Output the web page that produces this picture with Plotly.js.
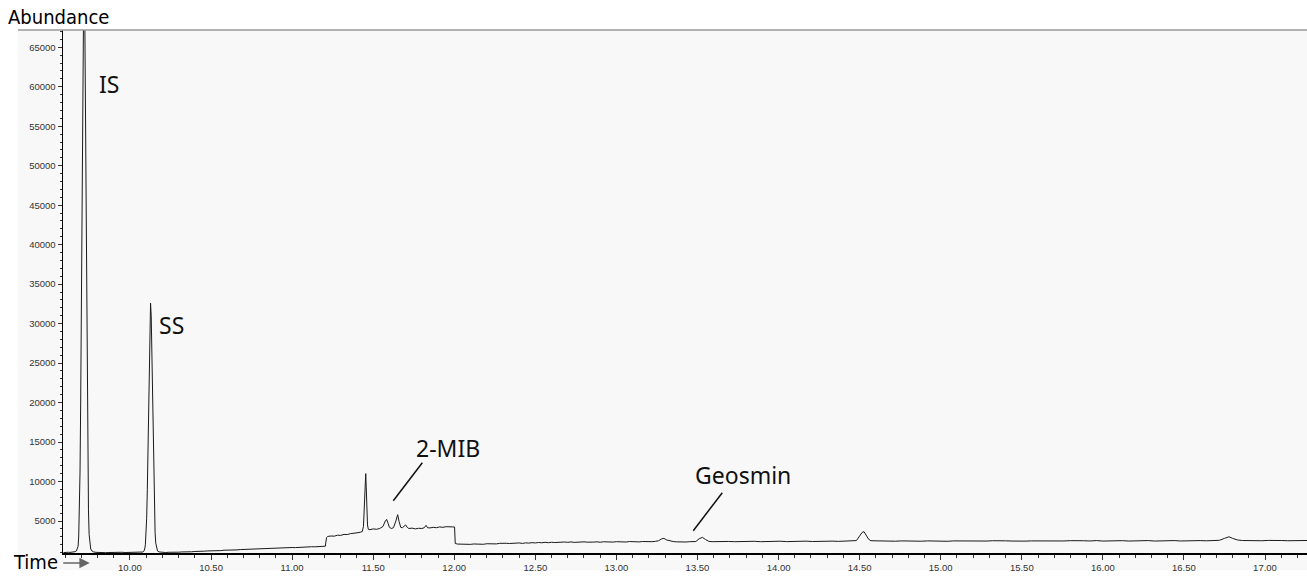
<!DOCTYPE html>
<html>
<head>
<meta charset="utf-8">
<script src="https://cdn.plot.ly/plotly-3.0.1.min.js"></script>
<style>
html,body{margin:0;padding:0;background:#fff;}
#chart{width:1307px;height:581px;}
</style>
</head>
<body>
<div id="chart"></div>
<script>
// Retention time (min) and abundance
const rtMin = [
  9.590, 9.600, 9.610, 9.620, 9.630, 9.640, 9.650, 9.660, 9.670,
  9.680, 9.684, 9.688, 9.692, 9.696, 9.700, 9.704, 9.708, 9.712, 9.716,
  9.720, 9.724, 9.728, 9.732, 9.736, 9.740, 9.744, 9.748, 9.752, 9.758, 9.766, 9.776,
  9.79, 9.81, 9.83, 9.85, 9.87, 9.89, 9.91, 9.93, 9.95, 9.97, 9.99, 10.01, 10.03, 10.05, 10.07, 10.08,
  10.085, 10.091, 10.095, 10.099, 10.103, 10.107, 10.111, 10.115, 10.119, 10.123, 10.127,
  10.131, 10.135, 10.139, 10.143, 10.147, 10.151, 10.155, 10.159, 10.164, 10.170, 10.18,
  10.20, 10.22, 10.24, 10.26, 10.28, 10.30, 10.32, 10.34, 10.36, 10.38, 10.40, 10.42, 10.44, 10.46, 10.48,
  10.50, 10.52, 10.54, 10.56, 10.58, 10.60, 10.62, 10.64, 10.66, 10.68, 10.70, 10.72, 10.74, 10.76, 10.78,
  10.80, 10.82, 10.84, 10.86, 10.88, 10.90, 10.92, 10.94, 10.96, 10.98, 11.00, 11.02, 11.04, 11.06, 11.08,
  11.10, 11.12, 11.14, 11.16, 11.18, 11.20, 11.205, 11.212, 11.22, 11.24, 11.26, 11.28, 11.30, 11.32, 11.34,
  11.36, 11.38, 11.40, 11.42, 11.432, 11.440, 11.444, 11.448, 11.451, 11.454, 11.457, 11.461, 11.465, 11.470,
  11.48, 11.50, 11.52, 11.54, 11.56, 11.575, 11.583, 11.592, 11.60, 11.612, 11.625, 11.640, 11.651, 11.660,
  11.670, 11.68, 11.69, 11.70, 11.71, 11.72, 11.74, 11.76, 11.78, 11.80, 11.815, 11.826, 11.835, 11.85,
  11.87, 11.89, 11.91, 11.93, 11.95, 11.97, 11.99, 12.002, 12.006,
  12.02, 12.04, 12.06, 12.08, 12.10, 12.12, 12.14, 12.16, 12.18, 12.20, 12.22, 12.24, 12.26, 12.28, 12.30,
  12.32, 12.34, 12.36, 12.38, 12.40, 12.42, 12.44, 12.46, 12.48, 12.50, 12.52, 12.54, 12.56, 12.58, 12.60,
  12.62, 12.64, 12.66, 12.68, 12.70, 12.72, 12.74, 12.76, 12.78, 12.80, 12.82, 12.84, 12.86, 12.88, 12.90,
  12.92, 12.94, 12.96, 12.98, 13.00, 13.02, 13.04, 13.06, 13.08, 13.10, 13.12, 13.14, 13.16, 13.18, 13.20,
  13.22, 13.24, 13.26, 13.28, 13.293, 13.31, 13.33, 13.35, 13.37, 13.39, 13.41, 13.43, 13.45, 13.47, 13.49,
  13.51, 13.53, 13.55, 13.57, 13.59, 13.61, 13.65, 13.69, 13.73, 13.77, 13.81, 13.85, 13.89, 13.93, 13.97,
  14.01, 14.05, 14.09, 14.13, 14.17, 14.21, 14.25, 14.29, 14.33, 14.37, 14.41, 14.45, 14.48, 14.50, 14.515,
  14.527, 14.54, 14.555, 14.57, 14.60, 14.64, 14.68, 14.72, 14.76, 14.80, 14.84, 14.88, 14.92, 14.96, 15.00,
  15.04, 15.08, 15.12, 15.16, 15.20, 15.24, 15.28, 15.32, 15.36, 15.40, 15.44, 15.48, 15.52, 15.56, 15.60,
  15.64, 15.68, 15.72, 15.76, 15.80, 15.84, 15.88, 15.92, 15.96, 16.00, 16.04, 16.08, 16.12, 16.16, 16.20,
  16.24, 16.28, 16.32, 16.36, 16.40, 16.44, 16.48, 16.52, 16.56, 16.60, 16.64, 16.68, 16.72, 16.75, 16.778,
  16.80, 16.83, 16.86, 16.90, 16.94, 16.98, 17.02, 17.06, 17.10, 17.14, 17.18, 17.22, 17.26
];
const abundance = [
  1000, 1030, 1010, 1040, 1020, 1050, 1060, 1110, 1220,
  1800, 3100, 5900, 11200, 19700, 31800, 46500, 61000, 72000, 76000,
  72500, 62000, 48000, 33000, 21000, 12000, 6400, 3300, 2000, 1450, 1200, 1080,
  1030, 1000, 1020, 990, 1010, 1030, 1000, 1020, 1040, 1010, 1020, 1050, 1020, 1030, 1040, 1070,
  1150, 1450, 1980, 3180, 5350, 8950, 14050, 20200, 26300, 30900, 32600,
  31000, 26600, 20700, 14600, 9500, 5800, 3500, 2200, 1550, 1200, 1080,
  1030, 1010, 1040, 1020, 1060, 1050, 1080, 1070, 1110, 1100, 1140, 1130, 1170, 1180, 1210,
  1200, 1240, 1260, 1250, 1300, 1290, 1330, 1350, 1340, 1380, 1400, 1390, 1430, 1450, 1440,
  1480, 1500, 1490, 1530, 1550, 1540, 1580, 1600, 1590, 1620, 1640, 1630, 1670, 1690, 1680,
  1720, 1740, 1730, 1770, 1790, 1780, 1810, 2900, 3050, 3100, 3080, 3200, 3180, 3300, 3280,
  3400, 3420, 3500, 3580, 3650, 4300, 6000, 9200, 10900, 11000, 9300, 6200, 4500, 3950,
  3900, 4000, 3950, 4050, 4300, 5000, 5200, 4700, 4200, 4050, 4150, 5000, 5800, 4900,
  4200, 4150, 4300, 4500, 4200, 4050, 4100, 4000, 4080, 4050, 4150, 4450, 4150, 4120,
  4200, 4150, 4250, 4200, 4280, 4220, 4250, 4230, 2150,
  2080, 2050, 2100, 2060, 2040, 2090, 2070, 2110, 2050, 2120, 2090, 2150, 2100, 2170, 2130,
  2180, 2150, 2200, 2170, 2220, 2160, 2230, 2200, 2260, 2220, 2280, 2240, 2300, 2250, 2310,
  2270, 2320, 2280, 2340, 2300, 2350, 2290, 2340, 2310, 2360, 2320, 2370, 2330, 2360, 2310,
  2370, 2340, 2380, 2330, 2380, 2350, 2390, 2340, 2400, 2360, 2390, 2350, 2400, 2370, 2410,
  2380, 2420, 2500, 2750, 2800, 2600, 2450, 2400, 2360, 2330, 2370, 2340, 2380, 2350, 2400,
  2750, 2930, 2650, 2420, 2380, 2400, 2370, 2410, 2380, 2420, 2390, 2430, 2380, 2420, 2400,
  2440, 2390, 2430, 2410, 2450, 2400, 2440, 2410, 2450, 2420, 2460, 2430, 2520, 3100, 3550,
  3650, 3200, 2700, 2500, 2480, 2450, 2490, 2440, 2480, 2450, 2490, 2440, 2480, 2450, 2490,
  2430, 2480, 2460, 2500, 2440, 2490, 2460, 2500, 2450, 2490, 2460, 2500, 2450, 2480, 2460,
  2510, 2450, 2490, 2470, 2510, 2460, 2500, 2470, 2520, 2460, 2500, 2470, 2510, 2460, 2500,
  2480, 2520, 2460, 2500, 2480, 2520, 2470, 2510, 2480, 2520, 2490, 2530, 2560, 2800, 3000,
  2800, 2600, 2530, 2490, 2530, 2500, 2540, 2490, 2530, 2500, 2540, 2510, 2530
];

// Peak labels
const peakLabels = ['IS', 'SS', '2-MIB', 'Geosmin'];
const labelRt = [9.870, 10.259, 11.961, 13.781];
const labelAbund = [60350, 29830, 14250, 10830];
// Leader lines (2-MIB, Geosmin): [rtFrom, abundFrom, rtTo, abundTo]
const leaderLines = [
  [11.624, 7571, 11.803, 12384],
  [13.474, 3771, 13.653, 8584]
];

// Axis ticks
const xTickVals = [10.0, 10.5, 11.0, 11.5, 12.0, 12.5, 13.0, 13.5, 14.0, 14.5, 15.0, 15.5, 16.0, 16.5, 17.0];
const yTickVals = [5000, 10000, 15000, 20000, 25000, 30000, 35000, 40000, 45000, 50000, 55000, 60000, 65000];

const labelFont = {family: 'Noto Sans, Open Sans, sans-serif', size: 23, color: '#111'};
const condFont = {family: 'DejaVu Sans Condensed, sans-serif', size: 20, color: '#000'};

const annotations = peakLabels.map((t, i) => ({
  text: t, x: labelRt[i], y: labelAbund[i], xref: 'x', yref: 'y',
  showarrow: false, font: labelFont, xanchor: 'center', yanchor: 'middle'
}));
annotations.push({
  text: 'Abundance', xref: 'paper', yref: 'paper', x: -0.0455, y: 1.024,
  xanchor: 'left', yanchor: 'middle', showarrow: false, font: condFont
});
annotations.push({
  text: 'Time', xref: 'paper', yref: 'paper', x: -0.0225, y: -0.017,
  xanchor: 'center', yanchor: 'middle', showarrow: false, font: condFont
});
annotations.push({
  text: '', xref: 'paper', yref: 'paper', x: 0.0215, y: -0.0191,
  axref: 'pixel', ayref: 'pixel', ax: -28, ay: 0,
  showarrow: true, arrowhead: 2, arrowsize: 1.6, arrowwidth: 1.3, arrowcolor: '#666'
});

const shapes = [
  {type: 'rect', xref: 'paper', yref: 'paper', x0: -0.0362, x1: 1.01, y0: -0.0325, y1: 1,
   fillcolor: '#f8f8f8', line: {width: 0}, layer: 'below'},
  {type: 'line', xref: 'paper', yref: 'paper', x0: -0.0362, x1: 1.01, y0: 1, y1: 1,
   line: {color: '#9a9a9a', width: 1.5}}
];
leaderLines.forEach(l => shapes.push({
  type: 'line', xref: 'x', yref: 'y', x0: l[0], y0: l[1], x1: l[2], y1: l[3],
  line: {color: '#111', width: 1.5}
}));

const trace = {
  x: rtMin, y: abundance, type: 'scatter', mode: 'lines',
  line: {color: '#1a1a1a', width: 1},
  hoverinfo: 'skip'
};

const layout = {
  width: 1307, height: 581,
  margin: {l: 63, r: 0, t: 30, b: 28},
  paper_bgcolor: '#ffffff',
  plot_bgcolor: '#f8f8f8',
  showlegend: false,
  xaxis: {
    range: [9.587, 17.259], tickmode: 'array', tickvals: xTickVals, tickformat: '.2f',
    ticks: 'outside', ticklen: 5, tickwidth: 1, tickcolor: '#333',
    minor: {dtick: 0.1, tick0: 10, ticks: 'outside', ticklen: 3, tickcolor: '#333', showgrid: false},
    showline: true, linecolor: '#000', linewidth: 1.5, showgrid: false, zeroline: false,
    tickfont: {family: 'Liberation Sans, Arial, sans-serif', size: 9.5, color: '#333'}
  },
  yaxis: {
    range: [947, 67190], tickmode: 'array', tickvals: yTickVals, tickformat: 'd',
    ticks: 'outside', ticklen: 4, tickwidth: 1, tickcolor: '#333',
    minor: {dtick: 1000, tick0: 0, ticks: 'outside', ticklen: 2, tickcolor: '#333', showgrid: false},
    showline: true, linecolor: '#000', linewidth: 1.5, showgrid: false, zeroline: false,
    tickfont: {family: 'Liberation Sans, Arial, sans-serif', size: 9.5, color: '#333'}
  },
  annotations: annotations,
  shapes: shapes
};

Plotly.newPlot('chart', [trace], layout, {displayModeBar: false, staticPlot: true});
</script>
</body>
</html>
